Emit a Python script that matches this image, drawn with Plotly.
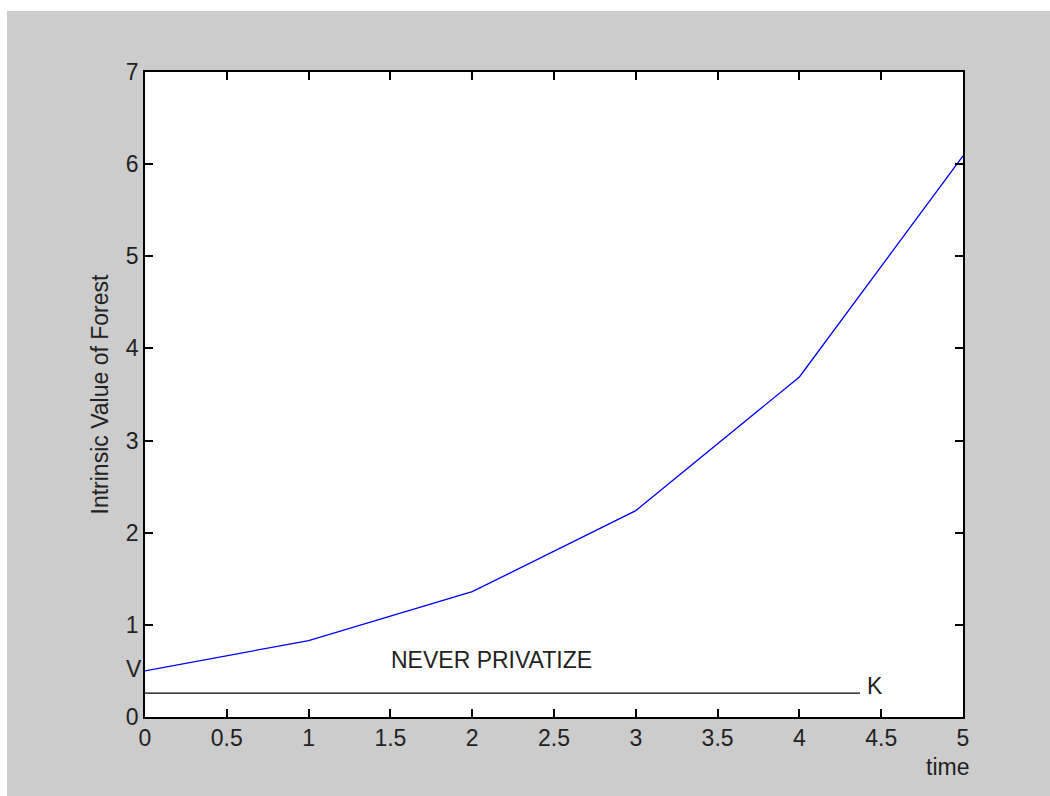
import plotly.graph_objects as go

# Data
time_vals = [0, 1, 2, 3, 4, 5]
forest_value = [0.50, 0.83, 1.36, 2.24, 3.69, 6.09]
k_line_x = [0, 4.37]
k_line_y = [0.26, 0.26]
x_ticks = [0, 0.5, 1, 1.5, 2, 2.5, 3, 3.5, 4, 4.5, 5]
x_tick_text = ["0", "0.5", "1", "1.5", "2", "2.5", "3", "3.5", "4", "4.5", "5"]
y_ticks = [0, 1, 2, 3, 4, 5, 6, 7]

FONT = "Liberation Sans, Arial, sans-serif"
W, H = 1050, 796
L, R, T, B = 145, 87, 72, 79
pw, ph = W - L - R, H - T - B

fig = go.Figure()
fig.add_trace(go.Scatter(x=time_vals, y=forest_value, mode="lines",
                         line=dict(color="#0000ff", width=1.3), showlegend=False))
fig.add_trace(go.Scatter(x=k_line_x, y=k_line_y, mode="lines",
                         line=dict(color="black", width=1.3), showlegend=False))

axis_common = dict(showline=True, linecolor="black", linewidth=1.5, mirror="ticks",
                   ticks="inside", ticklen=8, tickwidth=1.5, tickcolor="black",
                   showgrid=False, zeroline=False,
                   tickfont=dict(family=FONT, size=23, color="#222222"))

fig.update_xaxes(range=[0, 5], tickvals=x_ticks, ticktext=x_tick_text, **axis_common)
fig.update_yaxes(range=[0, 7], tickvals=y_ticks, **axis_common)

annots = [
    dict(x=(134 - L) / pw, y=(H - B - 669) / ph, xref="paper", yref="paper", text="V",
         showarrow=False, xanchor="center", yanchor="middle"),
    dict(x=4.40, y=0.34, xref="x", yref="y", text="K", showarrow=False,
         xanchor="left", yanchor="middle"),
    dict(x=2.115, y=0.62, xref="x", yref="y", text="NEVER PRIVATIZE", showarrow=False,
         xanchor="center", yanchor="middle"),
    dict(x=(947 - L) / pw, y=(H - B - 767) / ph, xref="paper", yref="paper", text="time",
         showarrow=False, xanchor="center", yanchor="middle"),
    dict(x=(99 - L) / pw, y=0.5, xref="paper", yref="paper", text="Intrinsic Value of Forest",
         showarrow=False, xanchor="center", yanchor="middle", textangle=-90),
]
for a in annots:
    a["font"] = dict(family=FONT, size=23, color="#222222")
    fig.add_annotation(**a)

# white border strips at the top and left of the gray figure
fig.add_shape(type="rect", xref="paper", yref="paper", layer="below",
              x0=-L / pw - 0.01, x1=(7 - L) / pw, y0=-B / ph - 0.01, y1=(H - B) / ph + 0.01,
              fillcolor="white", line=dict(width=0))
fig.add_shape(type="rect", xref="paper", yref="paper", layer="below",
              x0=-L / pw - 0.01, x1=1 + R / pw + 0.01, y0=(H - B - 11) / ph, y1=(H - B) / ph + 0.01,
              fillcolor="white", line=dict(width=0))

fig.update_layout(width=W, height=H, margin=dict(l=L, r=R, t=T, b=B),
                  paper_bgcolor="#cccccc", plot_bgcolor="white",
                  font=dict(family=FONT, size=23, color="#222222"))

fig.write_html("out.html")
